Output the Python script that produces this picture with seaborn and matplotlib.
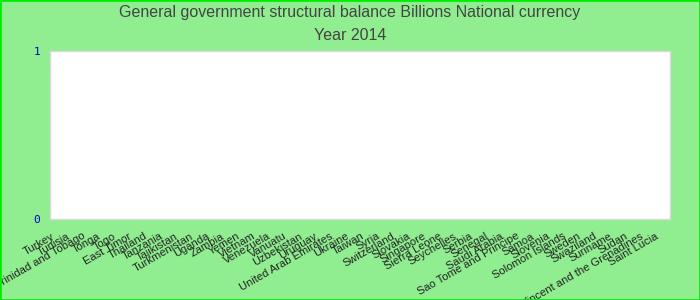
import matplotlib
matplotlib.use("Agg")
import matplotlib.pyplot as plt
import matplotlib.transforms as mtransforms
import seaborn as sns
import pandas as pd

countries = ["Turkey", "Tunisia", "Trinidad and Tobago", "Tonga", "Togo", "East Timor",
             "Thailand", "Tanzania", "Tajikistan", "Turkmenistan", "Uganda", "Zambia",
             "Yemen", "Vietnam", "Venezuela", "Vanuatu", "Uzbekistan", "Uruguay",
             "United Arab Emirates", "Ukraine", "Taiwan", "Syria", "Switzerland",
             "Slovakia", "Singapore", "Sierra Leone", "Seychelles", "Serbia", "Senegal",
             "Saudi Arabia", "Sao Tome and Principe", "Samoa", "Slovenia",
             "Solomon Islands", "Sweden", "Swaziland", "Suriname", "Sudan",
             "Saint Vincent and the Grenadines", "Saint Lucia"]
values = [0.0] * len(countries)
yticks = [0, 1]
title_lines = ["General government structural balance Billions National currency", "Year 2014"]

sns.set_theme(style="white")
plt.rcParams['font.family'] = ['Liberation Sans', 'DejaVu Sans']

df = pd.DataFrame({"country": countries, "value": values})

fig = plt.figure(figsize=(7, 3), dpi=100, facecolor="#90EE90")
ax = fig.add_axes([50/700, 1 - 219/300, 620/700, 168/300])
sns.barplot(data=df, x="country", y="value", ax=ax, color="#4472c4")
ax.set_facecolor("white")
ax.set_ylim(0, 1)
ax.set_yticks(yticks)
ax.set_yticklabels([str(t) for t in yticks], color="#0000cc", fontsize=8,
                   family=['DejaVu Sans Mono', 'DejaVu Sans'])
ax.set_xlim(-0.5, len(countries) - 0.5)
ax.set_xlabel("")
ax.set_ylabel("")
ax.tick_params(axis="x", length=0, pad=6)
ax.tick_params(axis="y", length=0, pad=7)
for s in ax.spines.values():
    s.set_color("#d8d8d8")
    s.set_linewidth(1)

fig.canvas.draw()
offset = mtransforms.ScaledTranslation(-7/100, -12/100, fig.dpi_scale_trans)
for tick in ax.xaxis.get_major_ticks():
    lbl = tick.label1
    lbl.set_rotation(30)
    lbl.set_ha("right")
    lbl.set_va("top")
    lbl.set_rotation_mode("anchor")
    lbl.set_fontsize(8)
    lbl.set_color("#222222")
    lbl.set_transform(ax.get_xaxis_transform() + offset)

fig.text(0.5, 1 - 13/300, title_lines[0], ha="center", va="center", fontsize=11.5, color="#444444")
fig.text(0.5, 1 - 36/300, title_lines[1], ha="center", va="center", fontsize=11.5, color="#444444")

fig.patches.append(matplotlib.patches.Rectangle((0, 0), 1, 1, transform=fig.transFigure,
                                                fill=False, edgecolor="#00ee00", linewidth=2))
fig.savefig("out.png", dpi=100, facecolor=fig.get_facecolor())
